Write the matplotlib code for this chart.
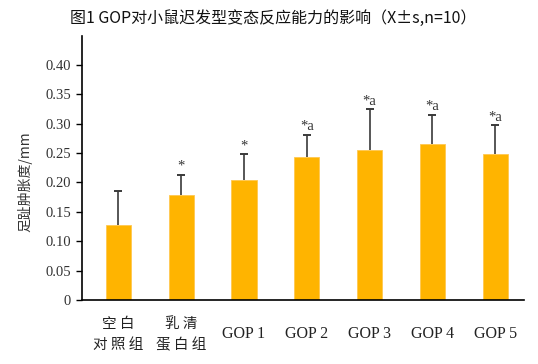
import matplotlib
matplotlib.use("Agg")
import matplotlib.pyplot as plt

categories = ["空白\n对照组", "乳清\n蛋白组", "GOP 1", "GOP 2", "GOP 3", "GOP 4", "GOP 5"]
means = [0.128, 0.178, 0.204, 0.244, 0.255, 0.265, 0.248]
sds = [0.058, 0.035, 0.044, 0.037, 0.069, 0.050, 0.049]
marks = ["", "*", "*", "*a", "*a", "*a", "*a"]
yticks = [0, 0.05, 0.10, 0.15, 0.20, 0.25, 0.30, 0.35, 0.40]
yticklabels = ["0", "0.05", "0.10", "0.15", "0.20", "0.25", "0.30", "0.35", "0.40"]

cjk = ["Noto Sans CJK SC", "DejaVu Sans"]
serif = ["Liberation Serif", "Noto Sans CJK SC"]

fig = plt.figure(figsize=(5.38, 3.64), dpi=100)
W, H = 538, 364
ax = fig.add_axes([82 / W, 1 - 300 / H, (524 - 82) / W, (300 - 36) / H])

x = list(range(len(categories)))
tops = [m + s for m, s in zip(means, sds)]
ax.bar(x, means, width=0.4, color="#FFB400", edgecolor="#FFC850", linewidth=0.6, zorder=2)
ax.vlines(x, means, tops, colors="#3a3a3a", linewidth=1.2, zorder=3)
ax.plot(x, tops, linestyle="none", marker="_", markersize=6, markeredgewidth=1.4,
        color="#3a3a3a", zorder=3)
for xi, t, lab in zip(x, tops, marks):
    if lab:
        ax.text(xi, t + 0.003, lab, ha="center", va="bottom", fontsize=10.5,
                family=serif, color="#333333")

ax.set_xlim(-0.58, 6.46)
ax.set_ylim(0, 0.449)
ax.set_yticks(yticks)
ax.set_yticklabels(yticklabels, family=serif, fontsize=10.5, color="#333333")
ax.set_xticks(x)
ax.set_xticklabels([])
ax.tick_params(axis="x", length=0)
ax.tick_params(axis="y", direction="out", length=4, width=1, pad=4)
for sp in ["top", "right"]:
    ax.spines[sp].set_visible(False)
ax.spines["left"].set_linewidth(1.2)
ax.spines["bottom"].set_linewidth(1.2)

for xi, c in zip(x, categories):
    if "\n" in c:
        l1, l2 = c.split("\n")
        ax.text(xi, -0.041, " ".join(l1), ha="center", va="center",
                family=cjk, fontsize=10.5, clip_on=False, color="#222222")
        ax.text(xi, -0.077, " ".join(l2), ha="center", va="center",
                family=cjk, fontsize=10.5, clip_on=False, color="#222222")
    else:
        ax.text(xi, -0.058, c, ha="center", va="center", family=serif, fontsize=11.5,
                clip_on=False, color="#222222")

fig.text(25 / W, 1 - 182 / H, "足趾肿胀度/mm", rotation=90, ha="center", va="center",
         family=cjk, fontsize=10, color="#333333")
fig.text(70 / W, 1 - 18 / H, "图1 GOP对小鼠迟发型变态反应能力的影响（X±s,n=10）",
         ha="left", va="center", family=cjk, fontsize=11.5, color="#111111")

fig.savefig("out.png", dpi=100)
